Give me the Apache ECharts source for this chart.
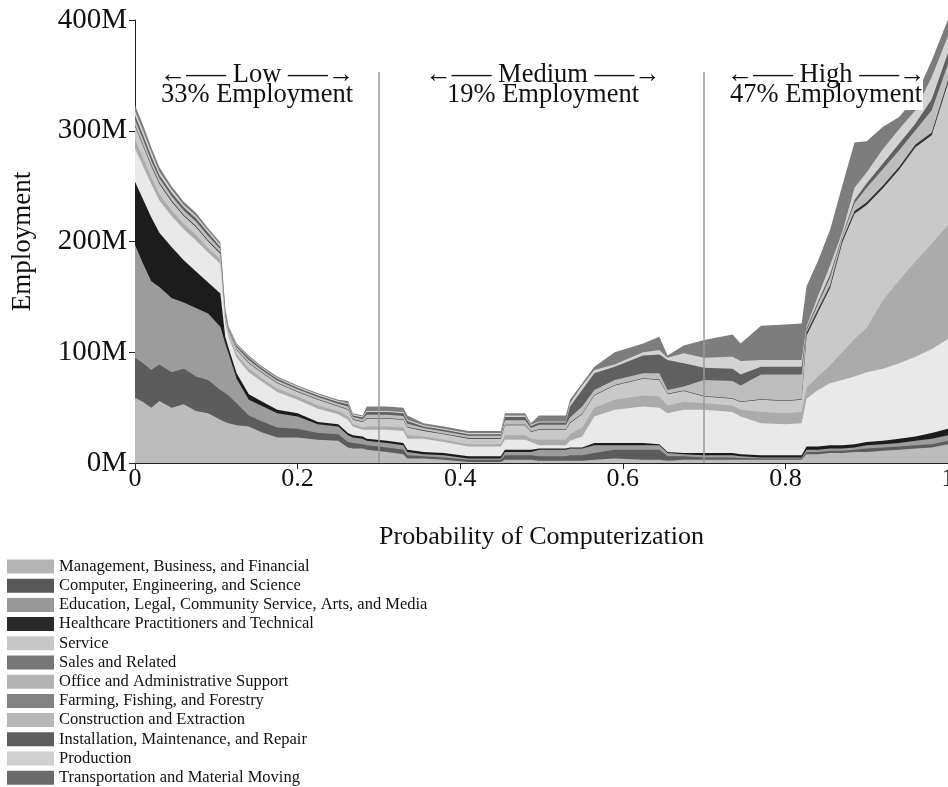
<!DOCTYPE html>
<html>
<head>
<meta charset="utf-8">
<script src="https://cdn.jsdelivr.net/npm/echarts/dist/echarts.min.js"></script>
<style>
html,body{margin:0;padding:0;background:#fff;}
#chart{width:948px;height:787px;}
</style>
</head>
<body>
<div id="chart"></div>
<script>
// Probability of computerization (x positions of samples)
const xs = [0, 0.01, 0.02, 0.03, 0.045, 0.06, 0.075, 0.09, 0.105, 0.111, 0.115, 0.125, 0.14, 0.155, 0.175, 0.2, 0.225, 0.25, 0.262, 0.268, 0.28, 0.285, 0.31, 0.33, 0.335, 0.355, 0.38, 0.41, 0.45, 0.455, 0.48, 0.487, 0.497, 0.53, 0.535, 0.55, 0.565, 0.59, 0.625, 0.645, 0.655, 0.675, 0.70, 0.735, 0.745, 0.77, 0.80, 0.82, 0.826, 0.84, 0.855, 0.87, 0.885, 0.90, 0.92, 0.94, 0.96, 0.98, 1.0];

// Employment (millions) per occupation group, stacked bottom to top
const management = [59,55,50,56,50,53,47,45,39, 37,36,34,33,28,23,23,21,20,14,13,13,12,10,8,4,4,3,1,1,3,3,3,2,2,2,2,3,4,3,3,2,3,3,3,3,3,3,3,8,8,9,9,10,10,11,12,13,14,17];
const computer = [36,35,34,33,32,32,31,30,27, 26,25,20,10,10,9,8,6,6,5,5,4,4,4,4,3,2,2,2,2,4,4,4,4,4,5,5,6,8,9,9,4,3,2,2,1.5,1,1,1,2,2,2,2,2,3,3,3,3,3,3];
const education = [102,90,80,70,67,60,62,60,57, 45,38,22,14,14,13,11,8,7,6,5,5,4,4,4,3,2,2,1,1,3,3,3,6,6,6,6,7,4,4,4,3,2,2,2,1.5,1,1,1,2,2,2,2,2,3,3,3,4,5,5];
const healthcare = [57,58,58,49,46,38,33,28,30, 6,5,5,5,4,3,3,2,2,2,2,2,2,2,2,2,2,2,2,2,2,2,2,1,1,1,1,2,2,2,1,1,1,2,2,2,2,2,2,3,3,3,3,3,3,3,4,4,5,6];
const service = [30,30,30,29,28,28,28,27,27, 12,10,14,20,18,16,12,12,9,12,8,6,8,10,11,10,12,10,9,9,9,9,7,3,3,6,10,24,30,33,33,35,39,39,37,34,29,28,29,43,51,56,59,61,63,65,68,72,76,81];
const sales = [8,7,6,6,5,5,5,4,4, 3,2,3,3,3,3,3,3,3,3,2,2,3,3,3,3,2,2,2,2,4,4,3,5,5,6,8,8,9,10,10,7,7,6,6,6,10,10,10,10,12,16,25,34,40,62,75,86,95,103];
const office = [12,11,10,9,8,7,7,6,5, 4,3,4,5,5,5,4,5,4,6,4,5,7,7,7,7,5,5,5,5,9,9,6,9,9,10,12,11,13,15,15,10,10,6,6,7,11,11,11,47,58,70,99,113,111,101,100,103,98,128];
const farming = [1,1,1,1,1,1,1,1,1, 1,0.5,0.5,0.5,0.5,0.5,0.5,0.5,0.5,0.5,0.5,0.5,0.5,0.5,0.5,0.5,0.5,0.5,0.5,0.5,0.5,0.5,0.5,0.5,0.5,0.5,0.5,0.5,0.5,0.5,0.5,0.5,0.5,0.5,0.5,0.5,0.5,0.5,0.5,2.5,2.5,2.5,2.5,2.5,2.5,2.5,2.5,2.5,2.5,2.5];
const construction = [5,5,4,4,4,4,4,4,3, 2,1.5,2,2.5,2,2,2,2,2,2.5,2,2,3,3,3,3,2,2,2,2,4,4,3,4,4,4.5,6.5,4.5,4.5,4.5,5.5,3.5,3.5,14.5,15.5,14.5,22.5,23.5,22.5,2,5,7,3,7,13,15,15,13,20,15];
const installation = [4,4,4,3,3,3,3,3,2, 2,1,1.5,2,1.5,1.5,1.5,1.5,1.5,2,1.5,1.5,2.5,2.5,2.5,2.5,1.5,1.5,1.5,1.5,3,3,2,2,2,10,15,15,12,16,17,27,21,11,11,10,7,7,7,2,2,3,1,3,4,5,6,6,10,10];
const production = [4,4,4,3,3,2,2,2,2, 1,1,1,1,1,1,1,1,1,1,1,1,1,1,1,1,1,1,1,1,1.5,1.5,1,1,1,3,4,3,2,3,4,2,9,9,11,12,6,6,6,2,5,8,3,11,10,13,13,12,20,15];
const transportation = [5,5,4,4,3,3,3,2,2, 1,1,1,1,1,1,1,1,1,2,1,1,4,4,4,4,2,2,2,2,2,2,1.5,5.5,5.5,3,2,3,11,8,12,2,7,16,20,16,31,32,33,36,32,32,42,41,28,20,11,12,15,15];

const categories = [
  'Management, Business, and Financial',
  'Computer, Engineering, and Science',
  'Education, Legal, Community Service, Arts, and Media',
  'Healthcare Practitioners and Technical',
  'Service',
  'Sales and Related',
  'Office and Administrative Support',
  'Farming, Fishing, and Forestry',
  'Construction and Extraction',
  'Installation, Maintenance, and Repair',
  'Production',
  'Transportation and Material Moving'
];
const values = [management, computer, education, healthcare, service, sales, office, farming, construction, installation, production, transportation];
const areaColors = ['#bcbcbc','#5c5c5c','#9c9c9c','#1c1c1c','#e9e9e9','#ababab','#c9c9c9','#333333','#bdbdbd','#606060','#d3d3d3','#7d7d7d'];
const legendColors = ['#b4b4b4','#575757','#999999','#2a2a2a','#c8c8c8','#767676','#b2b2b2','#838383','#b8b8b8','#5e5e5e','#d0d0d0','#6a6a6a'];
const yTicks = [0, 100, 200, 300, 400];
const xTicks = [0, 0.2, 0.4, 0.6, 0.8, 1];
const zones = [
  {center: 257, arrow: '←—– Low –—→', share: '33% Employment'},
  {center: 543, arrow: '←—– Medium –—→', share: '19% Employment'},
  {center: 826, arrow: '←—– High –—→', share: '47% Employment'}
];
const dividers = [0.3, 0.7];

const FONT = '"Liberation Serif", "DejaVu Serif", serif';
const chart = echarts.init(document.getElementById('chart'));

// cumulative tops of the stack (each area is filled from 0 to its top; lower groups are painted over higher ones)
const cumulative = [];
values.forEach((arr, i) => {
  cumulative.push(arr.map((v, k) => v + (i > 0 ? cumulative[i - 1][k] : 0)));
});

const series = [];
for (let i = categories.length - 1; i >= 0; i--) {
  series.push({
    name: categories[i],
    type: 'line',
    symbol: 'none',
    showSymbol: false,
    smooth: false,
    lineStyle: {width: 0, opacity: 0},
    itemStyle: {color: legendColors[i]},
    areaStyle: {color: areaColors[i], opacity: 1, origin: 'start'},
    emphasis: {disabled: true},
    data: xs.map((x, k) => [x, cumulative[i][k]])
  });
}
series.push({
  name: 'dividers', type: 'line', data: [], silent: true,
  markLine: {
    silent: true,
    symbol: ['none', 'none'],
    label: {show: false},
    lineStyle: {color: '#9a9a9a', width: 1.5, type: 'solid'},
    data: dividers.map(d => [{coord: [d, 0]}, {coord: [d, 353]}])
  }
});

const graphics = [
  {type: 'rect', shape: {x: 726, y: 58, width: 197, height: 52}, style: {fill: '#ffffff'}, z: 100}
];
zones.forEach(z => {
  graphics.push({type: 'text', x: z.center, y: 75, z: 101,
    style: {text: z.arrow, fontSize: 26.5, fontFamily: FONT, fill: '#111', align: 'center', verticalAlign: 'middle'}});
  graphics.push({type: 'text', x: z.center, y: 95, z: 101,
    style: {text: z.share, fontSize: 26.5, fontFamily: FONT, fill: '#111', align: 'center', verticalAlign: 'middle'}});
});

chart.setOption({
  animation: false,
  backgroundColor: '#ffffff',
  grid: {left: 135, right: 0, top: 20, bottom: 324, containLabel: false, outerBoundsMode: 'none'},
  xAxis: {
    type: 'value', min: 0, max: 1, interval: 0.2,
    name: 'Probability of Computerization', nameLocation: 'middle', nameGap: 61,
    nameTextStyle: {fontSize: 26, fontFamily: FONT, color: '#111'},
    axisLine: {show: true, lineStyle: {color: '#222', width: 1}},
    axisTick: {show: true, length: 6, lineStyle: {color: '#222'}},
    axisLabel: {fontSize: 26, fontFamily: FONT, color: '#111', margin: 3, hideOverlap: false,
      formatter: v => (xTicks.indexOf(+v.toFixed(1)) >= 0 ? String(+v.toFixed(1)) : '')},
    splitLine: {show: false}
  },
  yAxis: {
    type: 'value', min: 0, max: 400, interval: 100,
    name: 'Employment', nameLocation: 'middle', nameGap: 99, nameRotate: 90,
    nameTextStyle: {fontSize: 27, fontFamily: FONT, color: '#111'},
    axisLine: {show: true, lineStyle: {color: '#222', width: 1}},
    axisTick: {show: true, length: 6, lineStyle: {color: '#222'}},
    axisLabel: {fontSize: 29, fontFamily: FONT, color: '#111', margin: 8,
      formatter: v => (yTicks.indexOf(v) >= 0 ? v + 'M' : '')},
    splitLine: {show: false}
  },
  legend: {
    orient: 'vertical', left: 7, top: 558, height: 240, padding: 0,
    icon: 'rect', itemWidth: 47, itemHeight: 14, itemGap: 2.2,
    selectedMode: false,
    textStyle: {fontSize: 16.5, fontFamily: FONT, color: '#111'},
    data: categories.map((n, i) => ({name: n, itemStyle: {color: legendColors[i], borderWidth: 0}}))
  },
  graphic: graphics,
  series: series
});
</script>
</body>
</html>
